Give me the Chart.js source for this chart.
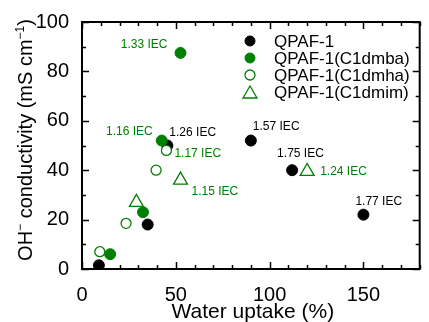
<!DOCTYPE html>
<html>
<head>
<meta charset="utf-8">
<script src="https://cdn.jsdelivr.net/npm/chart.js@4.4.1/dist/chart.umd.min.js"></script>
<style>
body { margin: 0; background: #fff; }
canvas { display: block; }
</style>
</head>
<body>
<canvas id="scatterChart" width="429" height="322"></canvas>
<script>
// data
var seriesNames = ["QPAF-1", "QPAF-1(C1dmba)", "QPAF-1(C1dmha)", "QPAF-1(C1dmim)"];
var qpafX = [9, 35, 45.5, 90, 112, 150];
var qpafY = [1.5, 18, 50, 52, 40, 22];
var dmbaX = [15, 32.5, 42.5, 52.5];
var dmbaY = [6, 23, 52, 87.5];
var dmhaX = [9.5, 23.5, 39.5, 45];
var dmhaY = [7, 18.5, 40, 48];
var dmimX = [29, 52.5, 120];
var dmimY = [27, 36, 39.5];
var xTicks = [0, 50, 100, 150];
var yTicks = [0, 20, 40, 60, 80, 100];

// IEC labels: dataset index, point index, text
var iecLabels = [
  [1, 3, "1.33 IEC"],
  [1, 2, "1.16 IEC"],
  [0, 2, "1.26 IEC"],
  [2, 3, "1.17 IEC"],
  [0, 3, "1.57 IEC"],
  [0, 4, "1.75 IEC"],
  [3, 1, "1.15 IEC"],
  [3, 2, "1.24 IEC"],
  [0, 5, "1.77 IEC"]
];
// label placement relative to the point (pixels)
var labelOffsets = [
  [-13, -8, 'right'], [-9, -9, 'right'], [2, -13, 'left'], [8, 3, 'left'],
  [2, -14, 'left'], [-15, -17, 'left'], [11, 12, 'left'], [13, 0, 'left'], [-8, -13, 'left']
];

var GREEN = '#008000';
var FONT = '"Liberation Sans", Arial, sans-serif';

function pts(xs, ys) {
  return xs.map(function (x, i) { return { x: x, y: ys[i] }; });
}

var framePlugin = {
  id: 'frame',
  afterDraw: function (chart) {
    var c = chart.ctx, a = chart.chartArea;
    var xs = chart.scales.x, ys = chart.scales.y;
    c.save();
    c.strokeStyle = '#000';
    c.lineWidth = 2;
    c.strokeRect(a.left, a.top, a.right - a.left, a.bottom - a.top);
    c.lineWidth = 1.5;
    c.beginPath();
    for (var v = 0; v <= 180; v += 10) {
      var px = Math.round(xs.getPixelForValue(v)) + 0.5;
      var len = v % 50 === 0 ? 7 : 4;
      c.moveTo(px, a.bottom); c.lineTo(px, a.bottom - len);
      c.moveTo(px, a.top); c.lineTo(px, a.top + len);
    }
    for (var w = 0; w <= 100; w += 10) {
      var py = Math.round(ys.getPixelForValue(w)) + 0.5;
      var l2 = w % 20 === 0 ? 7 : 4;
      c.moveTo(a.left, py); c.lineTo(a.left + l2, py);
      c.moveTo(a.right, py); c.lineTo(a.right - l2, py);
    }
    c.stroke();

    // IEC annotations
    c.font = '12px ' + FONT;
    c.textBaseline = 'middle';
    iecLabels.forEach(function (lab, k) {
      var el = chart.getDatasetMeta(lab[0]).data[lab[1]];
      var off = labelOffsets[k];
      c.fillStyle = lab[0] === 0 ? '#000' : GREEN;
      c.textAlign = off[2];
      c.fillText(lab[2], el.x + off[0], el.y + off[1]);
    });

    // legend inside the plot
    c.textAlign = 'left';
    c.font = '17px ' + FONT;
    seriesNames.forEach(function (name, i) {
      var ds = chart.data.datasets[i];
      var y = 41 + i * 17;
      c.fillStyle = '#000';
      c.fillText(name, 274, y + 1);
      c.fillStyle = ds.backgroundColor;
      c.strokeStyle = ds.borderColor;
      c.lineWidth = ds.borderWidth;
      c.beginPath();
      if (ds.pointStyle === 'triangle') {
        c.moveTo(250, y - 6); c.lineTo(257, y + 6); c.lineTo(243, y + 6); c.closePath();
      } else {
        c.arc(250, y, 5, 0, Math.PI * 2);
      }
      c.fill(); c.stroke();
    });

    // axis titles
    c.fillStyle = '#000';
    c.font = '21px ' + FONT;
    c.textAlign = 'center';
    c.textBaseline = 'alphabetic';
    c.fillText('Water uptake (%)', (a.left + a.right) / 2 + 2, 318);

    // y title with superscripts
    var parts = [['OH', 0], ['\u2212', 1], [' conductivity (mS cm', 0], ['\u22121', 1], [')', 0]];
    var big = '20px ' + FONT, small = '12px ' + FONT;
    var total = 0;
    parts.forEach(function (p) { c.font = p[1] ? small : big; total += c.measureText(p[0]).width; });
    c.translate(32, 140);
    c.rotate(-Math.PI / 2);
    c.textAlign = 'left';
    var x0 = -total / 2;
    parts.forEach(function (p) {
      c.font = p[1] ? small : big;
      c.fillText(p[0], x0, p[1] ? -8 : 0);
      x0 += c.measureText(p[0]).width;
    });
    c.restore();
  }
};

var ctx = document.getElementById('scatterChart').getContext('2d');
var myChart = new Chart(ctx, {
  type: 'scatter',
  data: {
    datasets: [
      { label: seriesNames[0], data: pts(qpafX, qpafY), pointStyle: 'circle', pointRadius: 5.5,
        backgroundColor: '#000', borderColor: '#000', borderWidth: 1, order: 4 },
      { label: seriesNames[1], data: pts(dmbaX, dmbaY), pointStyle: 'circle', pointRadius: 5.5,
        backgroundColor: GREEN, borderColor: GREEN, borderWidth: 1, order: 3 },
      { label: seriesNames[2], data: pts(dmhaX, dmhaY), pointStyle: 'circle', pointRadius: 5,
        backgroundColor: '#fff', borderColor: GREEN, borderWidth: 1.3, order: 2 },
      { label: seriesNames[3], data: pts(dmimX, dmimY), pointStyle: 'triangle', pointRadius: 8,
        backgroundColor: 'rgba(255,255,255,0)', borderColor: GREEN, borderWidth: 1.3, order: 1 }
    ]
  },
  options: {
    responsive: false,
    animation: false,
    layout: { padding: { top: 22, right: 1, left: 0, bottom: 0 } },
    plugins: { legend: { display: false }, tooltip: { enabled: false } },
    scales: {
      x: {
        type: 'linear', min: 0, max: 180,
        grid: { display: false }, border: { display: false },
        afterBuildTicks: function (s) { s.ticks = xTicks.map(function (v) { return { value: v }; }); },
        afterFit: function (s) { s.height = 53; },
        ticks: { color: '#000', padding: 6, maxRotation: 0, font: { family: FONT, size: 20 } }
      },
      y: {
        type: 'linear', min: 0, max: 100,
        grid: { display: false }, border: { display: false },
        afterBuildTicks: function (s) { s.ticks = yTicks.map(function (v) { return { value: v }; }); },
        afterFit: function (s) { s.width = 82; },
        ticks: { color: '#000', padding: 5, font: { family: FONT, size: 20 } }
      }
    }
  },
  plugins: [framePlugin]
});
</script>
</body>
</html>
